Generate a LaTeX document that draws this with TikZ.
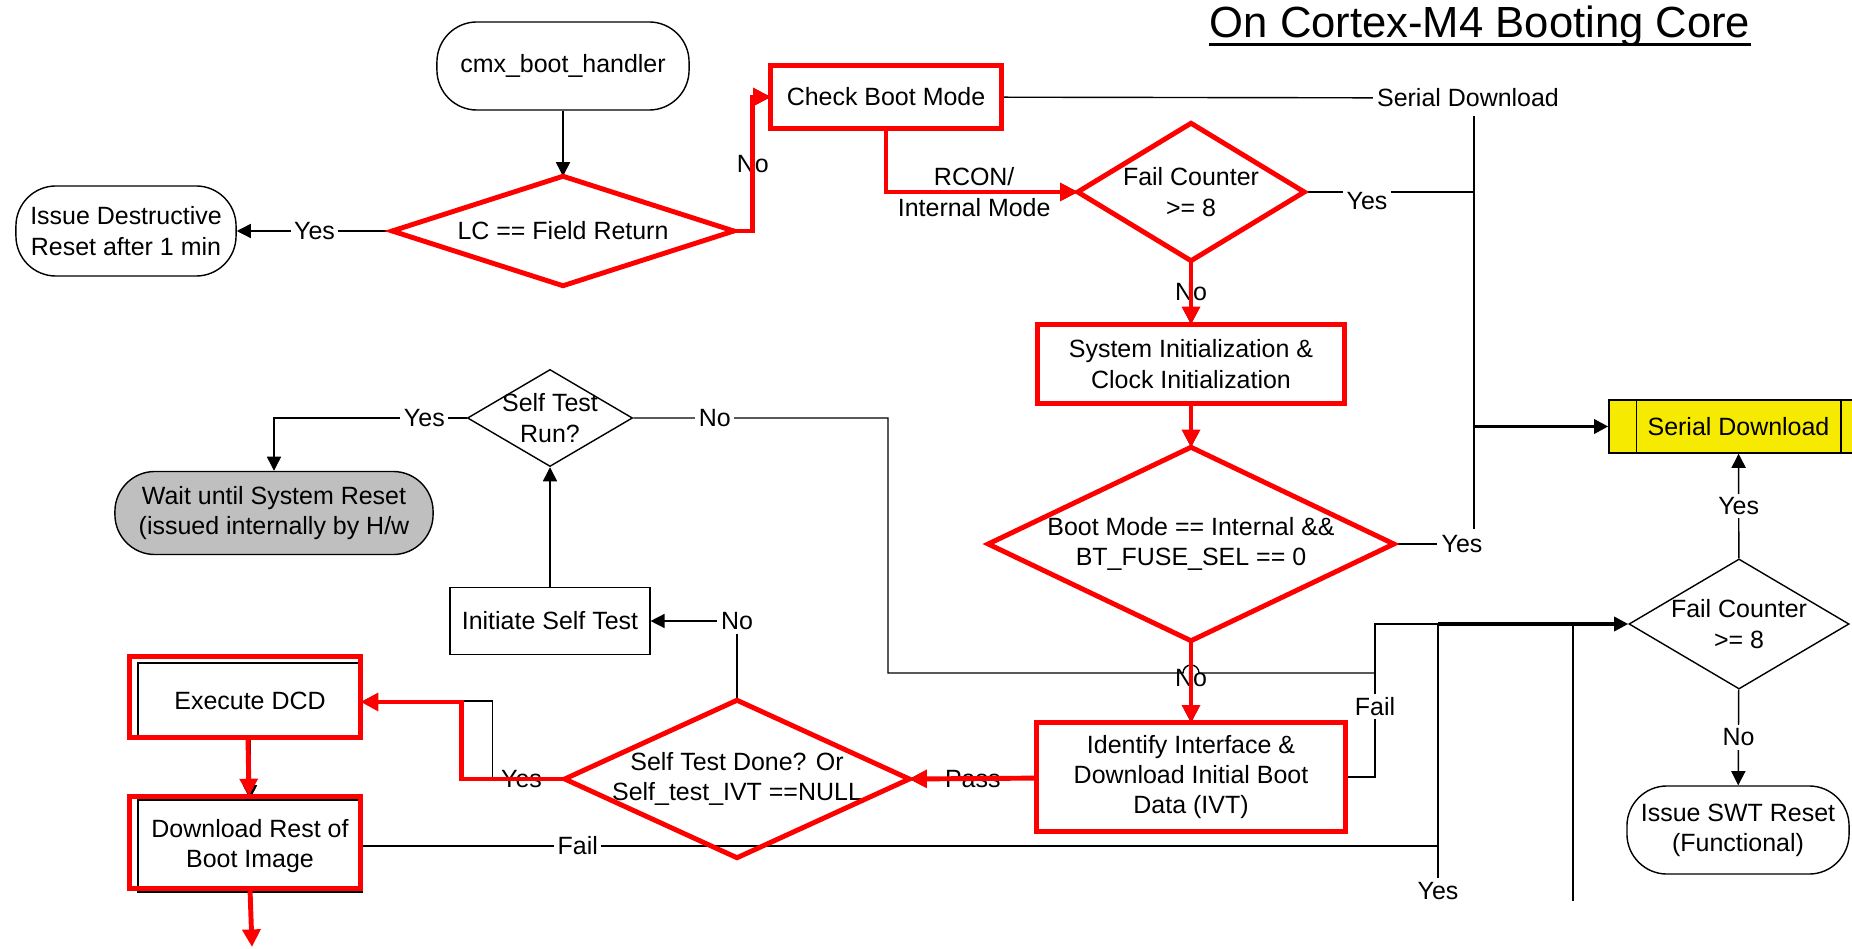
\documentclass[tikz,border=0pt]{standalone}
\usepackage{fontspec}
\setmainfont{Liberation Sans}
\usetikzlibrary{shapes.geometric,arrows.meta}
\definecolor{sdyellow}{RGB}{245,234,0}
\definecolor{waitgray}{RGB}{191,191,191}
\begin{document}
\begin{tikzpicture}[x=0.01cm, y=-0.01cm, font=\fontsize{7.1}{8.6}\selectfont,
	>={Triangle[length=4pt,width=4pt]},
	term/.style={draw, rounded corners=0.4cm, align=center},
	proc/.style={draw, align=center},
	decision/.style={draw, diamond, inner sep=0pt},
	lbl/.style={fill=white, inner sep=1pt},
	hl/.style={draw=red, line width=1.4pt},
	hla/.style={hl, -{Triangle[length=5pt,width=5pt]}},
	thk/.style={line width=0.9pt}]
	\useasboundingbox (0,0) rectangle (1852,949);
	% title
	\node[inner sep=0pt, anchor=base, font=\fontsize{12.4}{14}\selectfont] (title) at (1480,38) {On Cortex-M4 Booting Core};
	\draw[line width=0.7pt] ([yshift=-1.8pt]title.base west) -- ([yshift=-1.8pt]title.base east);

	\node[term, minimum width=2.52cm, minimum height=0.88cm]	(0)	at (563,66)	{cmx\_boot\_handler};
	\node[decision, minimum width=3.4cm, minimum height=1.08cm]	(1)	at (563,231)	{};
	\node[align=center]	(t1)	at (1)	{LC == Field Return};
	\node[term, minimum width=2.2cm, minimum height=0.9cm]	(2)	at (126,231)	{Issue Destructive\\Reset after 1 min};
	\node[proc, minimum width=2.29cm, minimum height=0.61cm]	(3)	at (886,97)	{Check Boot Mode};
	\node[decision, minimum width=2.25cm, minimum height=1.36cm]	(4)	at (1191,192)	{};
	\node[align=center]	(t4)	at (4)	{Fail Counter\\>= 8};
	\node[proc, minimum width=3.05cm, minimum height=0.78cm]	(5)	at (1191,364)	{System Initialization \&\\Clock Initialization};
	\node[decision, minimum width=4.04cm, minimum height=1.92cm]	(6)	at (1191,544)	{};
	\node[align=center]	(t6)	at (6)	{Boot Mode == Internal \&\&\\BT\_FUSE\_SEL == 0};
	\node[proc, minimum width=3.08cm, minimum height=1.07cm]	(7)	at (1191,777)	{Identify Interface \&\\Download Initial Boot\\Data (IVT)};
	\node[decision, minimum width=3.43cm, minimum height=1.56cm]	(8)	at (737,779)	{};
	\node[align=center]	(t8)	at (8)	{Self Test Done? Or\\Self\_test\_IVT ==NULL};
	\node[proc, minimum width=1.95cm, minimum height=0.67cm]	(9)	at (550,621)	{Initiate Self Test};
	\node[decision, minimum width=1.65cm, minimum height=0.97cm]	(10)	at (550,418)	{};
	\node[align=center]	(t10)	at (10)	{Self Test\\Run?};
	\node[term, fill=waitgray, minimum width=3.18cm, minimum height=0.83cm]	(11)	at (274,513)	{Wait until System Reset\\(issued internally by H/w};
	\node[proc, minimum width=2.24cm, minimum height=0.76cm]	(12)	at (250,701)	{Execute DCD};
	\node[proc, minimum width=2.24cm, minimum height=0.92cm]	(13)	at (250,846)	{Download Rest of\\Boot Image};
	\node[proc, fill=sdyellow, minimum width=2.59cm, minimum height=0.53cm]	(14)	at (1738.5,426.5)	{Serial Download};
	\draw ([shift={(28,0)}]14.north west) -- ([shift={(28,0)}]14.south west);
	\draw ([shift={(-28,0)}]14.north east) -- ([shift={(-28,0)}]14.south east);
	\node[decision, minimum width=2.2cm, minimum height=1.3cm]	(15)	at (1739,624)	{};
	\node[align=center]	(t15)	at (15)	{Fail Counter\\>= 8};
	\node[term, minimum width=2.22cm, minimum height=0.88cm]	(16)	at (1738,830)	{Issue SWT Reset\\(Functional)};

	% loose labels and joints
	\node[lbl]	(sd)	at (1468,98)	{Serial Download};
	\node[lbl]	(y6)	at (1462,544)	{Yes};
	\node[lbl]	(n4)	at (737,621)	{No};
	\node[lbl]	(y9)	at (1438,891)	{Yes};
	\coordinate (c1) at (1474,116);
	\coordinate (c2) at (1474,529);
	\coordinate (j1) at (1375,624);
	\coordinate (j2) at (1438,624);
	\coordinate (j3) at (1573,624);
	\coordinate (j4) at (1375,673);
	\coordinate (e1) at (1573,901);
	\coordinate (e2) at (252,947);

	\draw[->] (0) -- (1);
	\draw[->] (1) -- node[lbl] (y1) {Yes} (2);
	\draw[->] (1.east) -- ++(19,0) |- node[lbl, pos=0.25] (n1) {No} (3.west);
	\draw (3) -- (sd);
	\draw (c1) -- (c2);
	\draw[thk, ->] (c1 |- 14.west) -- (14.west);
	\draw[->] (3.south) |- node[pos=0.73, align=center] (r1) {RCON/\\Internal Mode} (4.west);
	\draw (4.east) -- node[lbl, pos=0.37, yshift=-2.5pt] (y2) {Yes} (4.east -| c1);
	\draw[->] (4) -- node[lbl] (n2) {No} (5);
	\draw[->] (5) -- (6);
	\draw (6.east) -- (y6);
	\draw[->] (6) -- node[pos=0.46] (n6) {No} (7);
	\draw[->] (7) -- node[lbl] (p1) {Pass} (8.east);
	\draw (7.east) -| node[lbl, pos=0.73] (f1) {Fail} (j1) -- (j2);
	\draw[thk, ->] (j2) -- (15.west);
	\draw (j2) -- (y9);
	\draw (j3) -- (e1);
	\draw[->] (15) -- node[lbl] (y8) {Yes} (14);
	\draw[->] (15) -- node[lbl] (n8) {No} (16);
	\draw (8.north) -- (n4);
	\draw[->] (n4) -- (9);
	\draw[->] (9) -- (10);
	\draw[->] (10.west) -- node[lbl, pos=0.22] (y3) {Yes} (11.north |- 10.west) -- (11.north);
	\draw (10.east) -- node[lbl, pos=0.32] (n3) {No} (888,418) -- (888,673) -- (1183,673) arc[start angle=180, end angle=0, radius=0.08cm] -- (j4);
	\draw[->] (8.west) -- node[lbl, pos=0.6] (y4) {Yes} ++(-72,0) |- (12.east);
	\draw[->] (12) -- (13);
	\draw (13.east) -- node[lbl, pos=0.2] (f2) {Fail} (13.east -| j2);

	% highlighted boot path
	\draw[hl] (1.north) -- (1.east) -- (1.south) -- (1.west) -- cycle;
	\draw[hla] (1.east) -- ++(19,0) |- (3.west);
	\draw[hl] (3.north west) rectangle (3.south east);
	\draw[hla] (3.south) |- (4.west);
	\draw[hl] (4.north) -- (4.east) -- (4.south) -- (4.west) -- cycle;
	\draw[hla] (4) -- (5);
	\draw[hl] (5.north west) rectangle (5.south east);
	\draw[hla] (5) -- (6);
	\draw[hl] (6.north) -- (6.east) -- (6.south) -- (6.west) -- cycle;
	\draw[hla] (6) -- (7);
	\draw[hl] (7.north west) rectangle (7.south east);
	\draw[hla] (7) -- (8.east);
	\draw[hl] (8.north) -- (8.east) -- (8.south) -- (8.west) -- cycle;
	\draw[hla] (8.west) -- ++(-103,0) |- ([shift={(-2,1)}]12.east);
	\draw[hl] ([shift={(-8,-6)}]12.north west) rectangle ([shift={(-2,-2)}]12.south east);
	\draw[hla] ([shift={(-2,-2)}]12.south) -- ([shift={(-1,-3)}]13.north);
	\draw[hl] ([shift={(-8,-3)}]13.north west) rectangle ([shift={(-2,-4)}]13.south east);
	\draw[hla] ([shift={(0,-4)}]13.south) -- (e2);
\end{tikzpicture}
\end{document}
